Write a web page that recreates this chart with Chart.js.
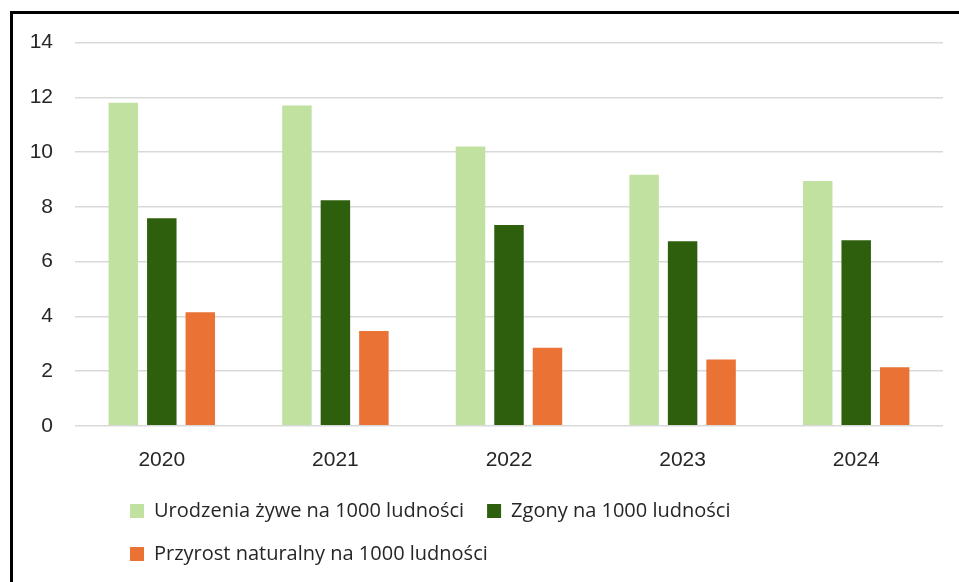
<!DOCTYPE html>
<html>
<head>
<meta charset="utf-8">
<script src="https://cdn.jsdelivr.net/npm/chart.js@4/dist/chart.umd.min.js"></script>
<style>
  html, body { margin: 0; padding: 0; background: #fff; }
  body { width: 959px; height: 582px; overflow: hidden; position: relative; }
  #frame {
    position: absolute; left: 10px; top: 11px; right: -10px; bottom: -10px;
    border-left: 3px solid #000; border-top: 3px solid #000;
  }
  #wrap { position: absolute; left: 13px; top: 8px; width: 946px; height: 574px; }
</style>
</head>
<body>
<div id="frame"></div>
<div id="wrap"><canvas id="chart"></canvas></div>
<script>
// dane z wykresu
const years = ['2020', '2021', '2022', '2023', '2024'];
const births = [11.8, 11.7, 10.2, 9.17, 8.94];
const deaths = [7.58, 8.24, 7.34, 6.74, 6.78];
const naturalGrowth = [4.15, 3.46, 2.85, 2.42, 2.14];
const yTicks = [0, 2, 4, 6, 8, 10, 12, 14];

const LEGEND_SHIFT = 77;  // Excel trzyma legendę wyrównaną do lewej, ale przesuniętą

// przesuwa legendę w prawo po ułożeniu wykresu
const legendShift = {
  id: 'legendShift',
  afterLayout(chart) {
    if (chart.legend) {
      chart.legend.left += LEGEND_SHIFT;
      chart.legend.right += LEGEND_SHIFT;
    }
  }
};

const tickFont = { family: 'Liberation Sans', size: 21 };

const ctx = document.getElementById('chart').getContext('2d');
new Chart(ctx, {
  type: 'bar',
  data: {
    labels: years,
    datasets: [
      { label: 'Urodzenia żywe na 1000 ludności', data: births, backgroundColor: '#c1e1a0' },
      { label: 'Zgony na 1000 ludności', data: deaths, backgroundColor: '#2e5f0d' },
      { label: 'Przyrost naturalny na 1000 ludności', data: naturalGrowth, backgroundColor: '#e97234' },
    ]
  },
  options: {
    responsive: true,
    maintainAspectRatio: false,
    animation: false,
    datasets: {
      bar: { categoryPercentage: 0.665, barPercentage: 0.766 }
    },
    layout: { padding: { left: 17, right: 16, top: 10, bottom: 8 } },
    scales: {
      x: {
        afterFit(axis) { axis.height -= 17; },
        grid: { display: false, drawTicks: false },
        border: { display: false },
        ticks: { color: '#262626', padding: 22, font: tickFont }
      },
      y: {
        min: 0,
        max: 14,
        afterBuildTicks(axis) {
          axis.ticks = yTicks.map(v => ({ value: v }));
        },
        afterFit(axis) { axis.width = 45; },
        grid: { color: '#d9d9d9', lineWidth: 1.5, drawTicks: false },
        border: { display: false },
        ticks: { color: '#262626', padding: 22, font: tickFont }
      }
    },
    plugins: {
      legend: {
        position: 'bottom',
        align: 'start',
        labels: {
          boxWidth: 14,
          boxHeight: 14,
          padding: 23,
          color: '#262626',
          font: { family: 'Open Sans', size: 20 }
        }
      },
      tooltip: { enabled: false }
    }
  },
  plugins: [legendShift]
});
</script>
</body>
</html>
